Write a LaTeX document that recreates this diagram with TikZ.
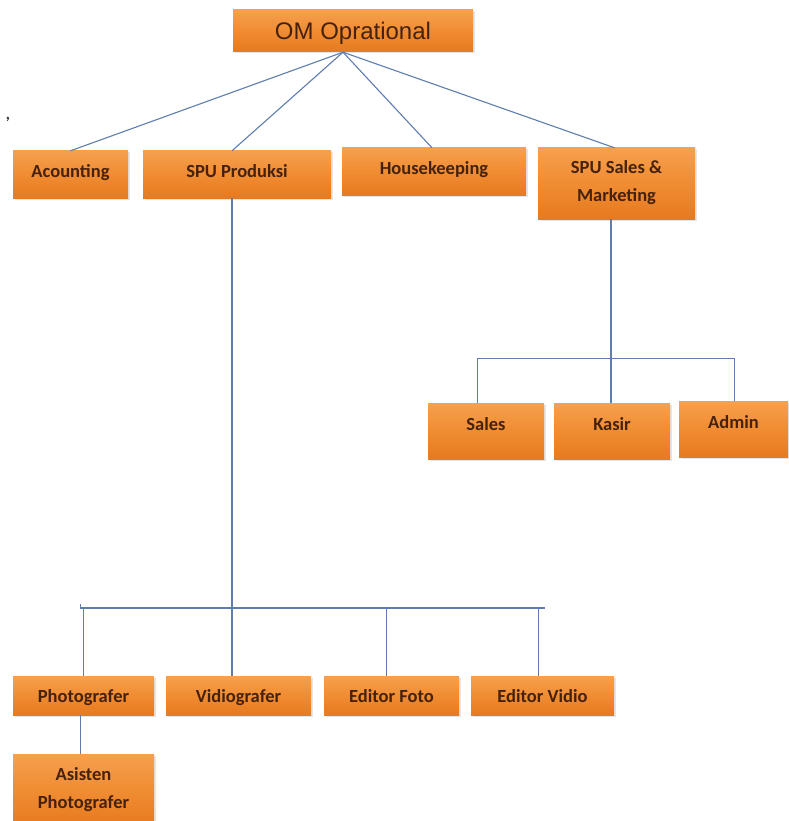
\documentclass[tikz,border=0pt]{standalone}
\usepackage{fontspec}
\setmainfont{Carlito}
\newfontfamily\arialf{Liberation Sans}
\usetikzlibrary{shadows,calc}
\definecolor{boxtop}{RGB}{246,160,78}
\definecolor{boxmid}{RGB}{240,140,50}
\definecolor{boxbot}{RGB}{230,122,32}
\definecolor{txt}{RGB}{70,34,12}
\definecolor{conncol}{RGB}{95,125,175}
\tikzset{
  orgbox/.style={rectangle, inner sep=0pt, top color=boxtop, bottom color=boxbot, middle color=boxmid,
    drop shadow={opacity=0.2, shadow xshift=1.5pt, shadow yshift=-1.5pt},
    text=txt, font=\bfseries\fontsize{18.5}{28}\selectfont, align=center,
    text height=13pt, text depth=0pt},
  liftup/.style={text depth=#1},
  conn/.style={draw=conncol, line width=1.1pt}
}
\begin{document}
\begin{tikzpicture}[x=1pt,y=-1pt]
\useasboundingbox[fill=white] (0,0) rectangle (788,821);
% boxes
\node[orgbox, minimum width=240pt, minimum height=42pt, font=\arialf\fontsize{24}{28}\selectfont, text height=17pt] (om) at (353,31) {OM Oprational};
\node[orgbox, minimum width=115pt, minimum height=47pt, liftup=7pt] (acc) at (70.5,174.5) {Acounting};
\node[orgbox, minimum width=188pt, minimum height=47pt, liftup=7pt] (spu) at (237,174.5) {SPU Produksi};
\node[orgbox, minimum width=184pt, minimum height=47pt, liftup=7pt] (hk) at (434,171.5) {Housekeeping};
\node[orgbox, minimum width=157pt, minimum height=71pt, text height=40pt, text depth=4pt] (sm) at (616.5,183.5) {SPU Sales \&\\Marketing};
\node[orgbox, minimum width=116pt, minimum height=56pt, liftup=15pt] (sl) at (486,431) {Sales};
\node[orgbox, minimum width=116pt, minimum height=56pt, liftup=15pt] (ks) at (612,431) {Kasir};
\node[orgbox, minimum width=109pt, minimum height=56pt, liftup=15pt] (ad) at (733.5,429) {Admin};
\node[orgbox, minimum width=141pt, minimum height=39pt] (ph) at (83.5,695.5) {Photografer};
\node[orgbox, minimum width=145pt, minimum height=39pt] (vd) at (238.5,695.5) {Vidiografer};
\node[orgbox, minimum width=135pt, minimum height=39pt] (ef) at (391.5,695.5) {Editor Foto};
\node[orgbox, minimum width=143pt, minimum height=39pt] (ev) at (542.5,695.5) {Editor Vidio};
\node[orgbox, minimum width=141pt, minimum height=72pt, text height=40pt, text depth=4pt] (as) at (83.5,790) {Asisten\\Photografer};
% stray mark
\node[text=black!80, font=\bfseries\fontsize{16}{16}\selectfont, inner sep=0pt] (mark) at (8,119) {,};
% connectors from top
\coordinate (omb) at ($(om.south)+(-10,0)$);
\draw[conn] (omb) -- (acc.north);
\draw[conn] (omb) -- ($(spu.north)+(-5,0)$);
\draw[conn] (omb) -- ($(hk.north)+(-2,0)$);
\draw[conn] (omb) -- ($(sm.north)+(-2,0)$);
% sales branch
\coordinate (sbus) at ($(sm.south)+(-5.5,139)$);
\coordinate (sbL) at ($(sl.north west)!0.43!(sl.north east)$);
\coordinate (sbR) at ($(ad.north west)!0.51!(ad.north east)$);
\draw[conn] ($(sm.south)+(-5.5,0)$) -- ($(ks.north)+(-1,0)$);
\draw[conn] (sbL |- sbus) -- (sbR |- sbus);
\draw[conn] (sbL |- sbus) -- (sbL);
\draw[conn] (sbR |- sbus) -- (sbR);
% produksi branch
\coordinate (pv) at ($(spu.south)+(-5,0)$);
\coordinate (pbus) at (80,608);
\draw[conn] (pv) -- (pv |- vd.north);
\draw[conn] (pbus) -- (545,608);
\draw[conn, line width=0.8pt] (80,604) -- (pbus);
\draw[conn] (ph.north |- pbus) -- (ph.north);
\coordinate (efn) at ($(ef.north)+(-5,0)$);
\coordinate (evn) at ($(ev.north)+(-4,0)$);
\draw[conn] (efn |- pbus) -- (efn);
\draw[conn] (evn |- pbus) -- (evn);
\draw[conn] ($(ph.south)+(-3,0)$) -- ($(as.north)+(-3,0)$);
\end{tikzpicture}
\end{document}
